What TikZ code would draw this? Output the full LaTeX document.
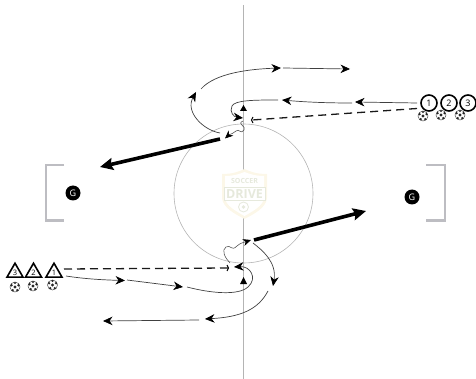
\documentclass[tikz,border=0pt]{standalone}
\usepackage{fontspec}
\setmainfont{Open Sans}
\usetikzlibrary{arrows.meta,shapes.geometric}
\definecolor{goalgray}{HTML}{BDBDC2}
\definecolor{fieldgray}{HTML}{B4B4B4}
\definecolor{logotext}{HTML}{E6E9DC}
\definecolor{logocream}{HTML}{FCF7E8}
\tikzset{
  run/.style={draw=black!75,line width=0.7pt,-{Stealth[length=9.5pt,width=8.5pt,inset=3pt,fill=black,color=black]}},
  dribble/.style={draw=black!70,line width=0.55pt,-{Stealth[length=8pt,width=7pt,inset=2.4pt,fill=black,color=black]}},
  shot/.style={draw=black,line width=3.6pt,-{Stealth[length=13pt,width=12pt,inset=2pt]}},
  passline/.style={draw=black!90,line width=1.3pt,dash pattern=on 8pt off 5pt},
  passend/.style={draw=black,line width=1pt},
  goalframe/.style={draw=goalgray,line width=2.3pt},
  fieldline/.style={draw=fieldgray,line width=0.6pt},
  keeper/.style={circle,fill=black,minimum size=15pt,inner sep=0pt,text=white,font=\fontsize{9}{9}\selectfont},
  circleplayer/.style={circle,draw=black,line width=1.6pt,fill=white,minimum size=16pt,inner sep=0pt,font=\fontsize{9}{9}\selectfont},
  triplayer/.style={regular polygon,regular polygon sides=3,draw=black,line width=1.6pt,fill=white,minimum size=18.5pt,inner sep=0pt},
  trinum/.style={font=\fontsize{7.5}{7.5}\selectfont,inner sep=0pt},
  balldisc/.style={circle,draw=black!70,line width=0.5pt,fill=white,minimum size=10pt,inner sep=0pt},
}
\newcommand{\ballat}[3]{%
  \node[balldisc] (#1) at (#2,#3) {};
  \fill[black!85] (#2,#3) circle (1.7);
  \fill[black!85] (#2-3.5,#3-1.8) circle (1.3);
  \fill[black!85] (#2+3.5,#3-1.8) circle (1.3);
  \fill[black!85] (#2-2.3,#3+3.2) circle (1.3);
  \fill[black!85] (#2+2.3,#3+3.2) circle (1.3);
  \fill[black!85] (#2,#3-4) circle (1.1);
}
\begin{document}
\begin{tikzpicture}[x=1pt,y=-1pt]
\useasboundingbox (0,0) rectangle (476,379);
% field
\coordinate (midT) at (243.5,5);
\coordinate (midB) at (243.5,379);
\draw[fieldline] (midT) -- (midB);
\coordinate (cc) at (243.5,193.5);
\draw[fieldline] (cc) circle (69.5);
% logo
\fill[logocream] (222,174) .. controls (232,174) and (238,172) .. (244.5,169) .. controls (251,172) and (257,174) .. (267,174) -- (267,198) .. controls (266,208) and (254,214) .. (244.5,219) .. controls (235,214) and (223,208) .. (222,198) -- cycle;
\fill[white] (225,176) .. controls (234,176) and (239,174) .. (244.5,172) .. controls (250,174) and (255,176) .. (264,176) -- (264,198) .. controls (263,206) and (253,211) .. (244.5,216) .. controls (236,211) and (226,206) .. (225,198) -- cycle;
\node[text=logotext,font=\fontsize{7}{7}\selectfont\bfseries,inner sep=0pt] (logoA) at (244.5,181) {SOCCER};
\draw[logotext,line width=1pt,fill=white] (224,187.5) rectangle (265,201);
\node[text=logotext,font=\fontsize{12.5}{12.5}\selectfont\bfseries,inner sep=0pt] (logoB) at (244.5,194.3) {DRIVE};
\draw[logotext,line width=0.8pt] (243.5,207) circle (5);
\fill[logotext] (243.5,207) circle (1.8);
% goals
\draw[goalframe] (64,165) -- (46,165) -- (46,220.5) -- (64,220.5);
\draw[goalframe] (426,165) -- (445,165) -- (445,220.5) -- (426,220.5);
\node[keeper] (gL) at (73,193) {G};
\node[keeper] (gR) at (412,197) {G};
% players
\node[circleplayer] (p1) at (429,103) {1};
\node[circleplayer] (p2) at (449,103) {2};
\node[circleplayer] (p3) at (468,103) {3};
\ballat{bc1}{423}{116}
\ballat{bc2}{441}{115}
\ballat{bc3}{460}{115}
\node[triplayer] (t3) at (15,272.5) {};
\node[triplayer] (t2) at (33.5,272.5) {};
\node[triplayer] (t1) at (54,272.5) {};
\node[trinum] (n3) at (15,273) {3};
\node[trinum] (n2) at (33.5,273) {2};
\node[trinum] (n1) at (54,273) {1};
\ballat{bt3}{15}{287}
\ballat{bt2}{33}{286}
\ballat{bt1}{52.5}{285}
% top coordinates
\coordinate (a0) at (220,133);
\coordinate (a1) at (196,92);
\coordinate (a2) at (201,89);
\coordinate (a3) at (281,68);
\coordinate (a4) at (283,68);
\coordinate (a5) at (350,69);
\coordinate (b0) at (417,103);
\coordinate (b1) at (355,102);
\coordinate (b2) at (352,103);
\coordinate (b3) at (282,100);
\coordinate (b4) at (278,100);
\coordinate (b5) at (243,118);
\coordinate (pt) at (417,108.5);
\coordinate (ptE) at (252,120);
\coordinate (s0) at (243,121);
\coordinate (s1) at (225,138.5);
\coordinate (sh0) at (220,139);
\coordinate (sh1) at (100,167);
% top connectors
\draw[run] (a0) .. controls (203,130) and (185,112) .. (a1);
\draw[run] (a2) .. controls (215,73) and (250,69) .. (a3);
\draw[run] (a4) -- (a5);
\draw[run] (b0) -- (b1);
\draw[run] (b2) .. controls (325,103) and (305,102) .. (b3);
\draw[run] (b4) .. controls (255,100) and (235,100) .. (232,106) .. controls (229,112) and (234,117) .. (b5);
\draw[passline] (pt) -- (ptE);
\draw[passend] (253,117) .. controls (251,119) and (251,121) .. (253,123);
\fill[black] (243.5,105) -- (247,111) -- (240,111) -- cycle;
\draw[dribble] (s0) .. controls (236,124) and (247,126) .. (244,130) .. controls (241,135) and (239,128) .. (236,131) .. controls (234,134) and (231,133) .. (s1);
\draw[shot] (sh0) -- (sh1);
% bottom coordinates
\coordinate (c0) at (253,243);
\coordinate (c1) at (273,286);
\coordinate (c2) at (268,291);
\coordinate (c3) at (205,319);
\coordinate (c4) at (199,320);
\coordinate (c5) at (103,321);
\coordinate (d0) at (66,276);
\coordinate (d1) at (125,280.5);
\coordinate (d2) at (127,280);
\coordinate (d3) at (183,287);
\coordinate (d4) at (187,287);
\coordinate (d5) at (234,267);
\coordinate (qt) at (64,269);
\coordinate (qtE) at (228,268);
\coordinate (r0) at (230,263);
\coordinate (r1) at (251,240);
\coordinate (th0) at (254,240);
\coordinate (th1) at (366,211);
% bottom connectors
\draw[run] (c0) .. controls (262,250) and (277,262) .. (c1);
\draw[run] (c2) .. controls (258,310) and (240,317) .. (c3);
\draw[run] (c4) -- (c5);
\draw[run] (d0) .. controls (85,279) and (105,280) .. (d1);
\draw[run] (d2) -- (d3);
\draw[run] (d4) .. controls (210,293) and (238,296) .. (248,287) .. controls (258,278) and (250,266) .. (d5);
\draw[passline] (qt) -- (qtE);
\draw[passend] (227,265) .. controls (229,267) and (229,269) .. (227,271);
\fill[black] (243.5,277) -- (247,284) -- (240,284) -- cycle;
\draw[dribble] (r0) .. controls (225,258) and (221,250) .. (226,247) .. controls (231,244) and (231,252) .. (237,246) .. controls (240,243) and (245,242) .. (r1);
\draw[shot] (th0) -- (th1);
\end{tikzpicture}
\end{document}
